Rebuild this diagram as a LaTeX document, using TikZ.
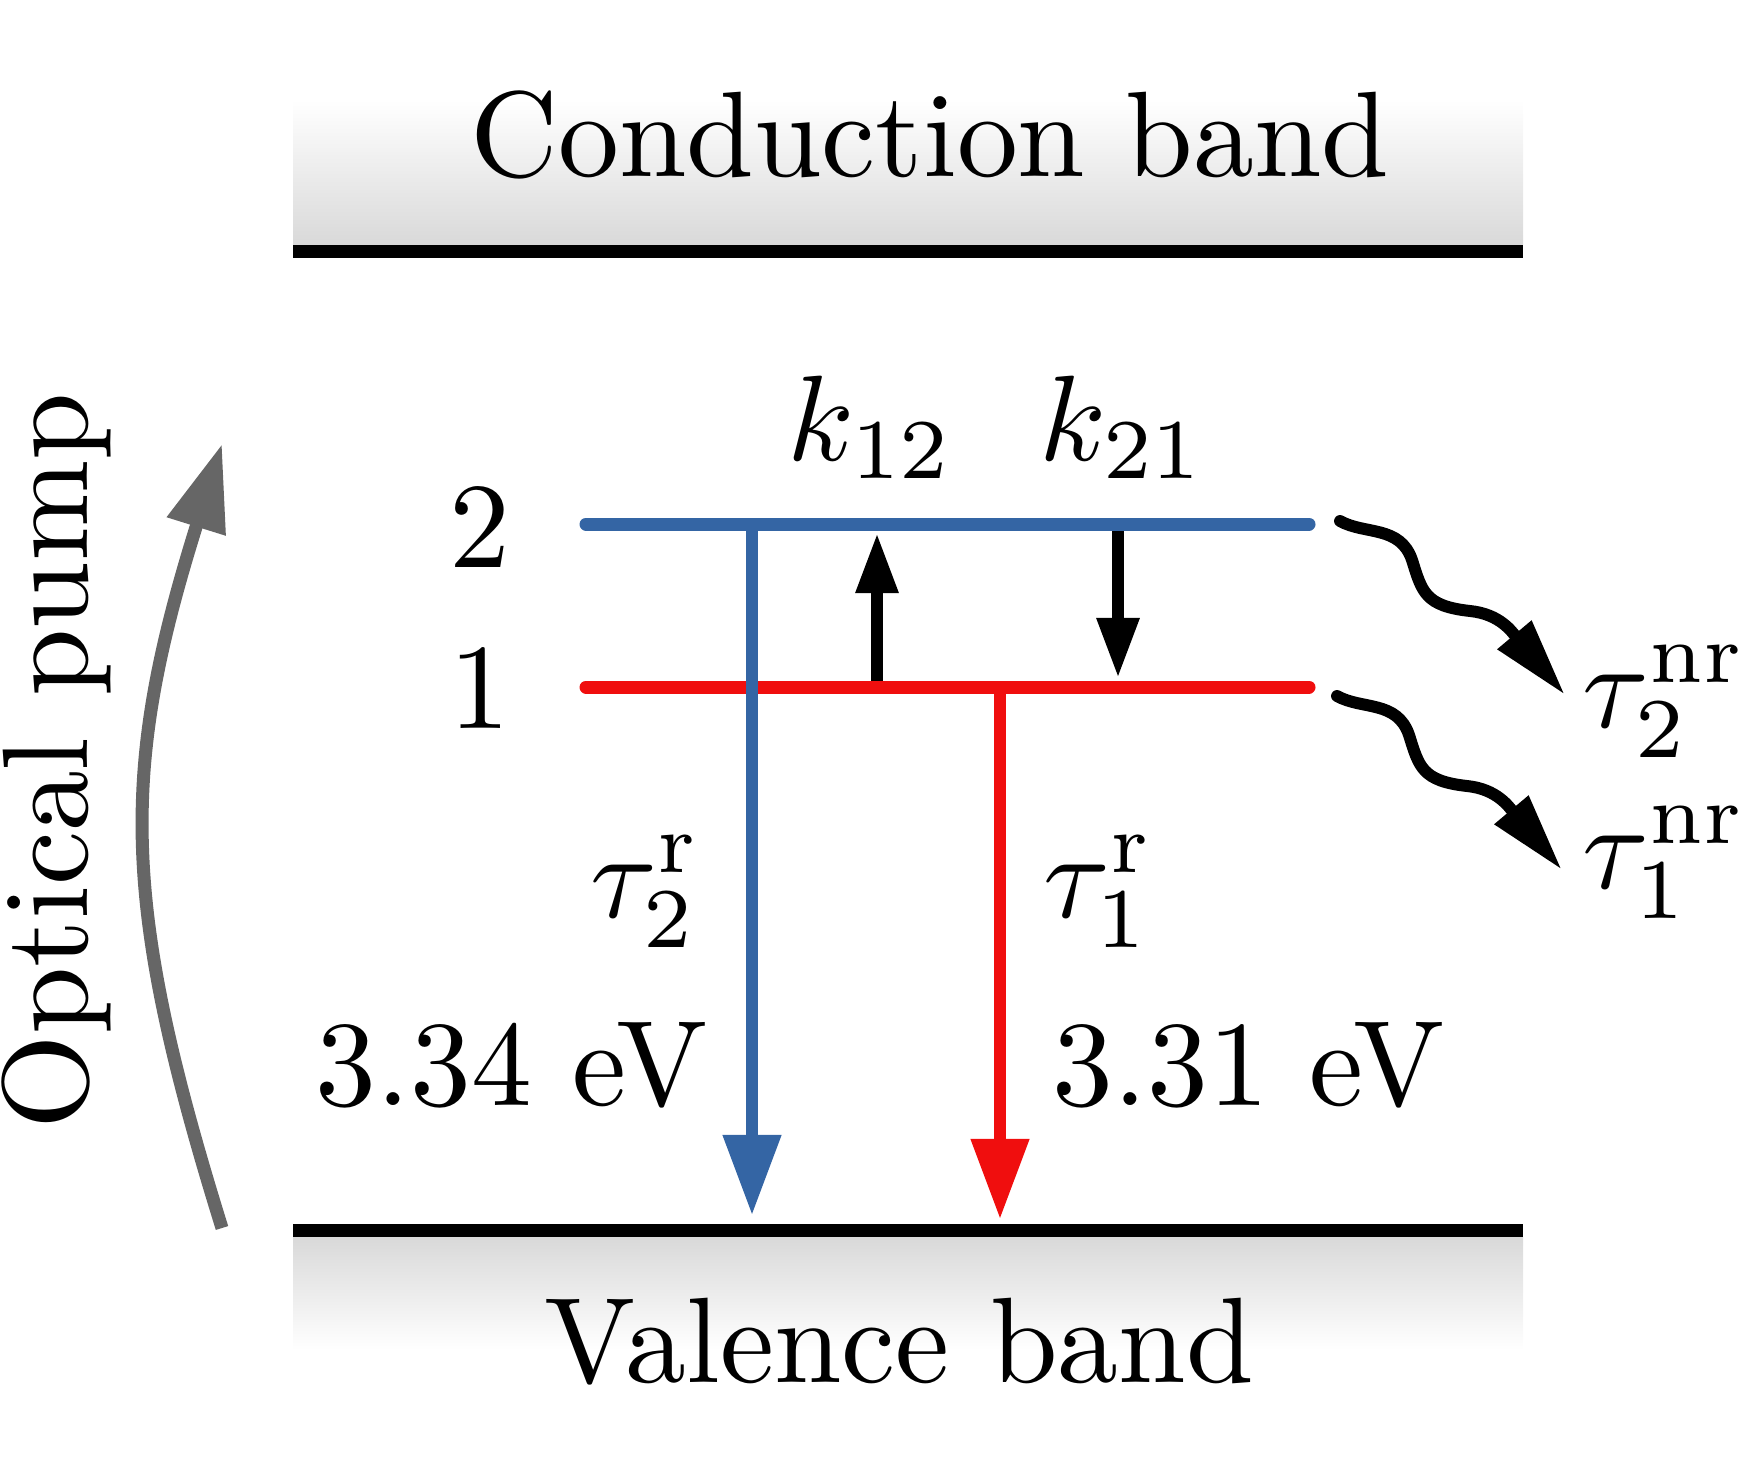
\documentclass[tikz,border=0pt]{standalone}
\usepackage{graphicx}
\usetikzlibrary{arrows.meta}
\definecolor{lvlblue}{RGB}{52,101,164}
\definecolor{lvlred}{RGB}{240,14,14}
\definecolor{pumpgray}{RGB}{102,102,102}
\newcommand{\bigtxt}[1]{\scalebox{3.46}{#1}}
\begin{document}
\begin{tikzpicture}[x=0.1mm,y=-0.1mm,
  every node/.style={inner sep=0pt, font=\normalsize},
  level/.style={line width=3.7pt, line cap=round},
  radarrow/.style={line width=3.3pt, -{Triangle[length=22.8pt,width=15.9pt]}},
  transfer/.style={line width=3.4pt, -{Triangle[length=17.1pt,width=11.4pt]}},
  wavy/.style={line width=3.4pt, line cap=round, -{Triangle[length=22.4pt,width=11.8pt]}},
  pump/.style={line width=3.7pt, pumpgray, -{Triangle[length=24.6pt,width=16.6pt]}}]
\useasboundingbox (0,0) rectangle (1746,1480);
% bands
\shade[top color=white, bottom color=black!15] (293,100) rectangle (1523,245);
\fill (293,245) rectangle (1523,258);
\shade[top color=black!15, bottom color=white] (293,1237) rectangle (1523,1350);
\fill (293,1224) rectangle (1523,1237);
\node[anchor=base] (cb) at (930,177) {\bigtxt{Conduction band}};
\node[anchor=base] (vb) at (899,1382) {\bigtxt{Valence band}};
% levels
\coordinate (L2a) at (586,524); \coordinate (L2b) at (1309,524);
\coordinate (L1a) at (586,687); \coordinate (L1b) at (1309,687);
\draw[level, lvlred] (L1a) -- (L1b);
\draw[level, lvlblue] (L2a) -- (L2b);
\node (n2) at (480,527) {\bigtxt{2}};
\node (n1) at (480,688) {\bigtxt{1}};
% transfer arrows
\coordinate (upS) at (877,681); \coordinate (upE) at (877,533);
\coordinate (dnS) at (1118,531); \coordinate (dnE) at (1118,678);
\draw[transfer] (upS) -- (upE);
\draw[transfer] (dnS) -- (dnE);
\node[anchor=base] (k12) at (871,460) {\bigtxt{$k_{12}$}};
\node[anchor=base] (k21) at (1123,460) {\bigtxt{$k_{21}$}};
% radiative arrows
\coordinate (rS) at (1000,694); \coordinate (rE) at (1000,1219);
\coordinate (bS) at (752,531); \coordinate (bE) at (752,1215);
\draw[radarrow, lvlred] (rS) -- (rE);
\draw[radarrow, lvlblue] (bS) -- (bE);
\node[anchor=base west] (t2r) at (590,917) {\bigtxt{$\tau_2^{\mathrm{r}}$}};
\node[anchor=base west] (t1r) at (1043,917) {\bigtxt{$\tau_1^{\mathrm{r}}$}};
\node[anchor=base west] (e2) at (315,1105) {\bigtxt{3.34 eV}};
\node[anchor=base west] (e1) at (1052,1105) {\bigtxt{3.31 eV}};
% non-radiative wavy arrows
\coordinate (w2) at (1340,521);
\coordinate (w1) at (1337,696);
\draw[wavy] (w2) .. controls +(25,14) and +(-12,-35) .. ++(72,39)
                 .. controls +(10,32) and +(-45,-5) .. ++(58,51)
                 .. controls +(30,3) and +(-53,-63) .. ++(95,84);
\draw[wavy] (w1) .. controls +(25,14) and +(-12,-35) .. ++(72,39)
                 .. controls +(10,32) and +(-45,-5) .. ++(58,51)
                 .. controls +(30,3) and +(-53,-63) .. ++(95,84);
\node[anchor=base west] (t2nr) at (1582,727) {\bigtxt{$\tau_2^{\mathrm{nr}}$}};
\node[anchor=base west] (t1nr) at (1582,888) {\bigtxt{$\tau_1^{\mathrm{nr}}$}};
% optical pump
\coordinate (pS) at (222,1228); \coordinate (pE) at (222,444);
\draw[pump] (pS) .. controls (120,900) and (120,770) .. (pE);
\node[rotate=90, anchor=base] (op) at (87,761) {\bigtxt{Optical pump}};
\end{tikzpicture}
\end{document}
